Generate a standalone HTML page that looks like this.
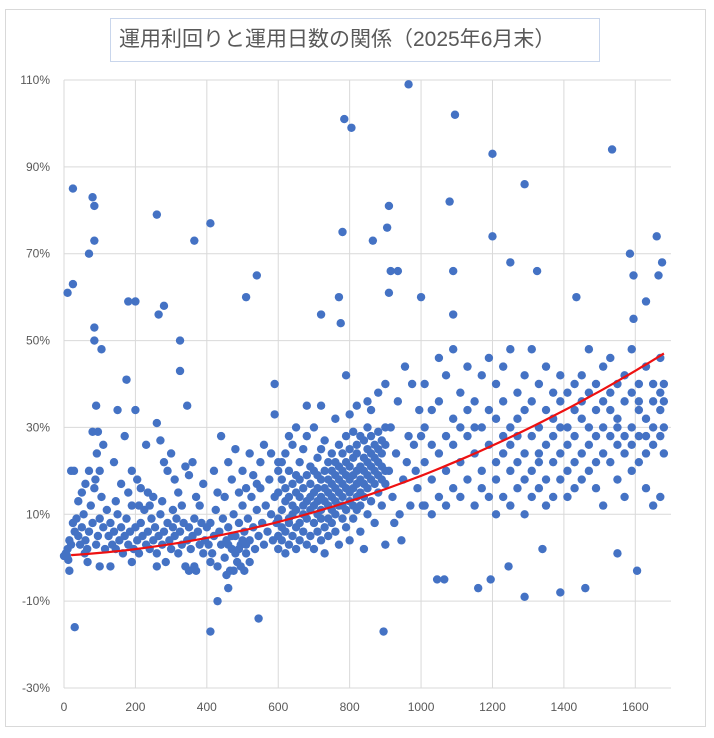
<!DOCTYPE html>
<html><head><meta charset="utf-8">
<style>
html,body{margin:0;padding:0;background:#fff;}
body{width:714px;height:738px;position:relative;overflow:hidden;font-family:"Liberation Sans","Noto Sans CJK JP",sans-serif;}
#frame{position:absolute;left:5px;top:9px;width:701px;height:718px;border:1px solid #d9d9d9;box-sizing:border-box;}
#title{position:absolute;left:110px;top:18px;width:490px;height:44px;border:1px solid #c9d6ec;box-sizing:border-box;font-size:21px;color:#595959;line-height:42px;padding-left:8px;white-space:nowrap;}
svg{position:absolute;left:0;top:0;}
</style></head><body>
<div id="frame"></div>
<div id="title">運用利回りと運用日数の関係（2025年6月末）</div>
<svg id="chart" width="714" height="738"></svg>
<script>
const xTicks=[0,200,400,600,800,1000,1200,1400,1600];
const yTicks=[-30,-10,10,30,50,70,90,110];
const trendCoef=[0.5,0.00467,0.0000137];
const outliers=[[0,0.4],[10,61],[25,85],[25,63],[30,-16],[80,83],[85,81],[85,73],[70,70],[85,53],[85,50],[105,48],[180,59],[200,59],[260,79],[265,56],[280,58],[325,50],[325,43],[345,35],[365,73],[410,77],[410,-17],[510,60],[540,65],[545,-14],[590,40],[720,56],[770,60],[780,75],[785,101],[805,99],[775,54],[865,73],[905,76],[910,81],[915,66],[935,66],[910,61],[895,-17],[965,109],[1000,60],[1095,102],[1080,82],[1090,66],[1090,56],[1200,93],[1200,74],[1250,68],[1290,86],[1325,66],[1435,60],[1535,94],[1585,70],[1595,65],[1595,55],[1660,74],[1675,68],[1665,65],[1630,59],[1605,-3],[1550,1],[1460,-7],[1390,-8],[1290,-9],[1160,-7],[1065,-5],[1045,-5],[1195,-5],[1245,-2],[1340,2],[430,-10],[460,-7],[100,-2],[15,-3]];
const regionA=[[5,1],[10,2],[15,4],[20,3],[25,8],[30,6],[35,9],[40,5],[45,3],[50,7],[55,10],[60,4],[65,2],[70,6],[75,12],[80,8],[85,16],[90,3],[95,5],[100,9],[105,14],[110,7],[115,2],[120,11],[88,18],[92,24],[80,29],[70,20],[50,15],[40,13],[60,17],[100,20],[110,26],[20,20],[28,20],[90,35],[95,29],[8,0.5],[12,-0.5],[58,1],[66,-1]];
const regionB=[[125,5],[130,8],[135,3],[140,6],[145,2],[150,10],[155,4],[160,7],[165,1],[170,5],[175,9],[180,3],[185,6],[190,12],[195,2],[200,7],[205,4],[210,1],[215,8],[220,5],[225,11],[230,3],[235,6],[240,2],[245,9],[250,4],[255,7],[260,1],[265,5],[270,10],[275,3],[280,6],[285,-1],[290,8],[295,4],[300,2],[305,7],[310,5],[315,9],[320,1],[325,6],[330,3],[335,8],[340,-2],[345,4],[350,7],[355,2],[360,5],[365,9],[370,-3],[375,6],[380,3],[385,8],[390,1],[395,4],[400,7],[140,22],[150,34],[160,17],[170,28],[175,41],[190,20],[200,34],[205,18],[215,16],[230,26],[250,14],[260,31],[270,27],[280,22],[290,20],[300,24],[310,18],[320,15],[330,12],[340,21],[350,19],[360,22],[370,14],[380,12],[390,17],[145,13],[210,12],[235,15],[275,13],[305,11],[130,-2],[190,-1],[260,-2],[350,-3],[365,-2],[180,15],[240,12]];
const regionC=[[405,3],[410,8],[415,1],[420,5],[425,11],[430,-2],[435,6],[440,3],[445,9],[450,0],[455,4],[460,7],[465,-3],[470,2],[475,10],[480,5],[485,-1],[490,8],[495,3],[500,12],[505,6],[510,1],[515,9],[520,4],[525,14],[530,7],[535,2],[540,11],[545,5],[550,16],[555,8],[560,3],[565,12],[570,6],[575,18],[580,10],[585,4],[590,14],[595,8],[600,20],[420,20],[440,28],[460,22],[470,18],[480,25],[500,20],[510,16],[520,24],[530,19],[550,22],[560,26],[580,24],[590,33],[600,22],[430,15],[450,14],[490,15],[540,17],[410,-1],[455,-4],[475,-3],[495,-2],[505,-3],[520,-1],[480,1],[490,2],[500,4],[510,3],[470,5],[460,3]];
const clusterDays=[600,610,620,630,640,650,660,670,680,690,700,710,720,730,740,750,760,770,780,790,800,810,820,830,840,850,860,870,880,890,900];
const clusterReturns=[[2,9,15,5],[11,4,18,7,22],[6,13,1,16,24],[9,3,14,20,8],[12,5,17,26,10],[7,15,2,19,11],[14,8,22,4,18],[10,16,6,25,12],[13,3,19,9,28],[17,11,5,21,14],[8,15,20,12,30,2],[16,10,23,6,13,19],[11,18,4,25,14,9],[20,13,7,16,27,1],[15,9,22,12,18,5],[17,11,24,14,8,20],[13,19,6,16,22,10],[18,12,26,15,3,21],[14,20,9,17,24,12],[22,16,11,19,28,7],[15,21,13,25,18,4],[19,12,23,16,29,9],[17,24,14,20,11,26],[21,15,28,18,12,6],[23,17,20,27,14,2],[19,25,16,22,30,10],[24,18,21,28,13],[20,26,17,23,8],[25,19,29,15,22],[21,27,18,24,12],[26,20,30,17,3]];
const regionDExtra=[[760,32],[800,33],[820,35],[850,36],[880,38],[900,40],[790,42],[860,34],[720,35],[650,30],[680,35],[630,28],[910,20],[920,14],[930,24],[940,10],[950,18],[960,22],[970,12],[980,26],[990,16],[1000,28],[915,30],[935,36],[955,44],[975,40],[995,34],[925,8],[945,4],[965,28],[985,20],[1005,12]];
const wideDays=[1010,1030,1050,1070,1090,1110,1130,1150,1170,1190,1210,1230,1250,1270,1290,1310,1330,1350,1370,1390,1410,1430,1450,1470,1490,1510,1530,1550,1570,1590,1610,1630,1650,1670,1680];
const wideReturns=[[22,12,30,40],[18,26,10,34],[24,14,36,46],[20,28,12,42],[26,16,32,48],[22,30,14,38],[28,18,34,44],[24,12,36,30],[30,20,42,16],[26,34,14,46],[22,32,18,40,10],[28,24,36,14,44],[20,30,26,48,12],[32,22,38,16,28],[24,34,18,42,10],[28,20,36,14,48],[30,24,40,16,22],[26,34,18,44,12],[32,22,28,38,14],[24,36,18,30,42],[30,26,38,20,14],[28,34,22,40,16],[32,24,42,18,36],[26,38,20,30,48],[34,28,40,22,16],[30,36,24,44,12],[28,38,22,34,46],[32,26,40,18,30],[36,28,42,24,14],[30,38,26,48,20],[34,28,40,22,36],[32,24,44,28,16],[36,30,26,40,12],[34,28,38,46,14],[30,36,24,40]];

const NS='http://www.w3.org/2000/svg';
const svg=document.getElementById('chart');
const X0=64,X1=671,Y0=80,Y1=688,XMIN=0,XMAX=1700,YMIN=-30,YMAX=110;
function sx(v){return X0+(v-XMIN)/(XMAX-XMIN)*(X1-X0);}
function sy(v){return Y1-(v-YMIN)/(YMAX-YMIN)*(Y1-Y0);}
function mk(tag,attrs){const e=document.createElementNS(NS,tag);for(const k in attrs)e.setAttribute(k,attrs[k]);svg.appendChild(e);return e;}
yTicks.forEach(t=>{
  const l=mk('line',{x1:X0,x2:X1,y1:sy(t),y2:sy(t),stroke:'#d9d9d9','stroke-width':1});
  
  
  const tx=mk('text',{x:50,y:sy(t)+4,'text-anchor':'end','font-size':12,fill:'#595959','font-family':'Liberation Sans, sans-serif'});
  tx.textContent=t+'%';
  
  
});
xTicks.forEach(t=>{
  const l=mk('line',{x1:sx(t),x2:sx(t),y1:Y0,y2:Y1,stroke:'#d9d9d9','stroke-width':1});
  
  
  const tx=mk('text',{x:sx(t),y:711,'text-anchor':'middle','font-size':12,fill:'#595959','font-family':'Liberation Sans, sans-serif'});
  tx.textContent=t;
  
  
});
const pts=[].concat(outliers,regionA,regionB,regionC,regionDExtra);
clusterDays.forEach((d,i)=>clusterReturns[i].forEach(r=>pts.push([d,r])));
wideDays.forEach((d,i)=>wideReturns[i].forEach(r=>pts.push([d,r])));
pts.forEach(p=>{
  const c=mk('circle',{cx:sx(p[0]),cy:sy(p[1]),r:4.2,fill:'#4472c4'});
  
  
});
let d='';
for(let x=20;x<=1680;x+=20){const y=trendCoef[0]+trendCoef[1]*x+trendCoef[2]*x*x;d+=(d?'L':'M')+sx(x).toFixed(1)+','+sy(y).toFixed(1);}
const tl=mk('path',{d:d,fill:'none',stroke:'#ee1111','stroke-width':2.2});


</script>
</body></html>
